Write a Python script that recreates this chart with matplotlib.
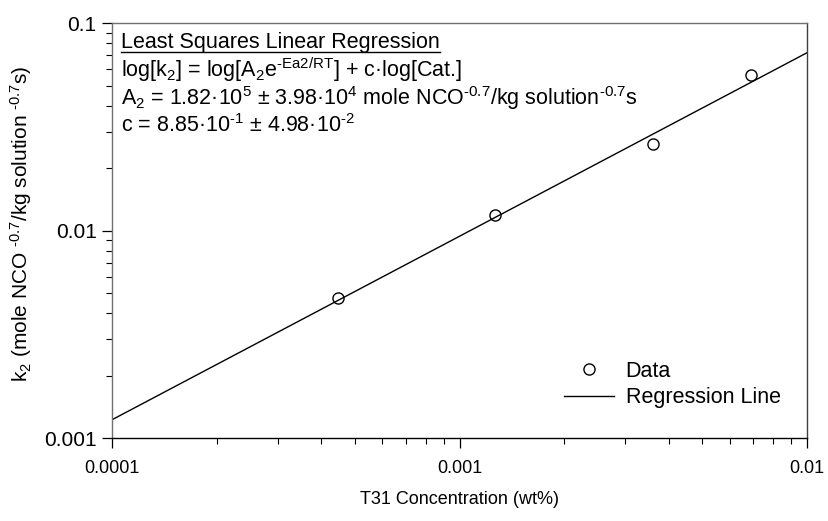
import matplotlib.pyplot as plt
import numpy as np
from matplotlib.ticker import FixedLocator, FuncFormatter, LogLocator, NullFormatter

plt.rcParams['font.family'] = ['Liberation Sans', 'DejaVu Sans']
plt.rcParams['mathtext.default'] = 'regular'

# data
conc = [4.48e-4, 1.265e-3, 3.61e-3, 6.89e-3]      # T31 concentration (wt%)
k2 = [4.72e-3, 1.186e-2, 2.62e-2, 5.65e-2]          # rate constant

# regression line: log10(k2) = intercept + slope*log10(conc)
slope = 0.885
intercept = 0.628
line_x = [1e-4, 1e-2]

title_lines = [
    'Least Squares Linear Regression',
    'log[k$_2$] = log[A$_2$e$^{‐Ea2/RT}$] + c·log[Cat.]',
    'A$_2$ = 1.82·10$^{5}$ ± 3.98·10$^{4}$ mole NCO$^{‐0.7}$/kg solution$^{‐0.7}$s',
    'c = 8.85·10$^{‐1}$ ± 4.98·10$^{‐2}$',
]

W, H = 829, 521
fs_text = 15.5
fig = plt.figure(figsize=(W / 100, H / 100), dpi=100)
ax = fig.add_axes([0.1351, 0.1593, 0.8384, 0.796])

lx = np.array(line_x)
ly = 10 ** (intercept + slope * np.log10(lx))
ax.plot(conc, k2, 'o', ms=8, mfc='none', mec='black', mew=1.0, label='Data')
ax.plot(lx, ly, '-', color='black', lw=1.0, label='Regression Line')

ax.set_xscale('log')
ax.set_yscale('log')
ax.set_xlim(1e-4, 1e-2)
ax.set_ylim(1e-3, 1e-1)

fmt = FuncFormatter(lambda v, p: ('%.4f' % v).rstrip('0'))
ax.xaxis.set_major_locator(FixedLocator([1e-4, 1e-3, 1e-2]))
ax.yaxis.set_major_locator(FixedLocator([1e-3, 1e-2, 1e-1]))
ax.xaxis.set_major_formatter(fmt)
ax.yaxis.set_major_formatter(fmt)
ax.xaxis.set_minor_locator(LogLocator(base=10, subs=np.arange(2, 10)))
ax.yaxis.set_minor_locator(LogLocator(base=10, subs=np.arange(2, 10)))
ax.xaxis.set_minor_formatter(NullFormatter())
ax.yaxis.set_minor_formatter(NullFormatter())
ax.tick_params(which='major', direction='out', length=7, width=0.9)
ax.tick_params(which='minor', direction='out', length=4, width=0.8)
ax.tick_params(axis='x', which='major', labelsize=13, pad=9)
ax.tick_params(axis='y', which='major', labelsize=15, pad=4)

for s in ['left', 'top']:
    ax.spines[s].set_color('#707070')
ax.spines['right'].set_color('#404040')
for s in ax.spines.values():
    s.set_linewidth(1.0)

ax.set_xlabel('T31 Concentration (wt%)', fontsize=13, labelpad=10)
ax.set_ylabel('k$_2$ (mole NCO $^{‐0.7}$/kg solution $^{‐0.7}$s)', fontsize=15)
ax.yaxis.set_label_coords(-0.112, 0.516)

# annotation block (baselines)
ys = [0.908, 0.852, 0.798, 0.747]
texts = []
for t, y in zip(title_lines, ys):
    texts.append(fig.text(0.146, y, t, fontsize=fs_text, va='baseline', ha='left'))

fig.canvas.draw()
bb = texts[0].get_window_extent()
ul_y = (ys[0] * H - 4) / H
fig.add_artist(plt.Line2D([bb.x0 / W, bb.x1 / W], [ul_y, ul_y],
                          transform=fig.transFigure, color='black', lw=1.0))

ax.legend(loc='lower right', bbox_to_anchor=(0.99, 0.025), frameon=False,
          fontsize=fs_text, handlelength=2.3, handletextpad=0.55, labelspacing=0.25)

plt.savefig('out.png', dpi=100)
plt.close(fig)
